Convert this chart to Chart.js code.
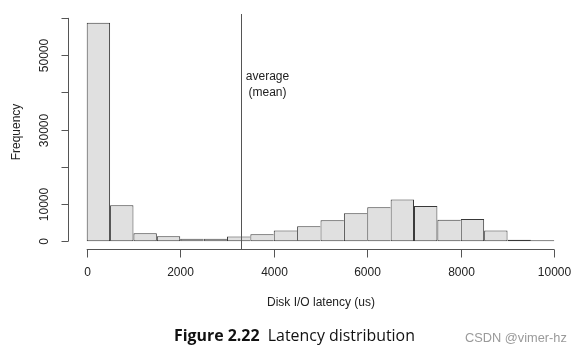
<!DOCTYPE html>
<html>
<head>
<meta charset="utf-8">
<script src="https://cdn.jsdelivr.net/npm/chart.js@4.4.1/dist/chart.umd.min.js"></script>
<style>
  html, body { margin: 0; padding: 0; background: #fff; }
  #wrap { width: 581px; height: 353px; }
</style>
</head>
<body>
<div id="wrap"><canvas id="hist" width="581" height="353"></canvas></div>
<script>
// histogram bins (us) and counts
const binEdges = [0, 500, 1000, 1500, 2000, 2500, 3000, 3500, 4000, 4500, 5000,
                  5500, 6000, 6500, 7000, 7500, 8000, 8500, 9000, 9500, 10000];
const counts = [58700, 9700, 2150, 1350, 700, 700, 1250, 1900, 2870, 4030,
                5650, 7500, 9140, 11200, 9450, 5780, 5950, 2900, 400, 250];
const xTicks = [0, 2000, 4000, 6000, 8000, 10000];
const yTicks = [0, 10000, 20000, 30000, 40000, 50000, 60000];
const yLabels = [0, 10000, 30000, 50000];   // R drops the ones that would overlap
const meanLatency = 3290;

const axisColor = '#555';
const textColor = '#222';
const tickFont = '12px "Liberation Sans", Arial, sans-serif';

function line(ctx, x1, y1, x2, y2) {
  ctx.beginPath();
  ctx.moveTo(x1, y1);
  ctx.lineTo(x2, y2);
  ctx.stroke();
}

// fit a text to a given pixel width
function fitFont(ctx, txt, weight, family, width) {
  ctx.font = weight + ' 20px ' + family;
  return 20 * width / ctx.measureText(txt).width;
}

// draws R-style axes (line only from first to last tick), labels, mean line and caption
const rStyle = {
  id: 'rStyle',
  afterDatasetsDraw(chart) {
    const { ctx, chartArea: a, scales: { x, y } } = chart;
    ctx.save();
    ctx.strokeStyle = axisColor;
    ctx.lineWidth = 1;

    // mean line over the whole plot region
    const mx = Math.round(x.getPixelForValue(meanLatency)) + 0.5;
    line(ctx, mx, a.top, mx, a.bottom);

    // x axis
    const ay = Math.round(a.bottom) - 0.5;
    line(ctx, x.getPixelForValue(xTicks[0]), ay, x.getPixelForValue(xTicks[xTicks.length - 1]), ay);
    ctx.fillStyle = textColor;
    ctx.font = tickFont;
    ctx.textAlign = 'center';
    ctx.textBaseline = 'middle';
    xTicks.forEach(v => {
      const px = Math.round(x.getPixelForValue(v)) + 0.5;
      line(ctx, px, ay, px, ay + 8);
      ctx.fillText(String(v), px, 273);
    });
    ctx.fillText('Disk I/O latency (us)', (x.getPixelForValue(0) + x.getPixelForValue(10000)) / 2 + 0.5, 303);

    // y axis
    const axx = Math.round(a.left) + 0.5;
    line(ctx, axx, y.getPixelForValue(yTicks[0]), axx, y.getPixelForValue(yTicks[yTicks.length - 1]));
    yTicks.forEach(v => {
      const py = Math.round(y.getPixelForValue(v)) + 0.5;
      line(ctx, axx - 7, py, axx, py);
      if (yLabels.includes(v)) {
        ctx.save();
        ctx.translate(45, py);
        ctx.rotate(-Math.PI / 2);
        ctx.fillText(String(v), 0, 0);
        ctx.restore();
      }
    });
    ctx.save();
    ctx.translate(17, (a.top + a.bottom) / 2);
    ctx.rotate(-Math.PI / 2);
    ctx.fillText('Frequency', 0, 0);
    ctx.restore();

    // annotation next to the mean line
    ctx.fillText('average', mx + 26, 77);
    ctx.fillText('(mean)', mx + 26, 93);

    // figure caption
    const fam = '"Open Sans", "Noto Sans", sans-serif';
    const bold = 'Figure 2.22';
    const rest = '  Latency distribution';
    ctx.font = '700 20px ' + fam;
    const wb = ctx.measureText(bold).width;
    ctx.font = '400 20px ' + fam;
    const wr = ctx.measureText(rest).width;
    const size = 20 * 241 / (wb + wr);
    ctx.textAlign = 'left';
    ctx.textBaseline = 'alphabetic';
    ctx.fillStyle = '#111';
    ctx.font = '700 ' + size + 'px ' + fam;
    ctx.fillText(bold, 174, 341);
    ctx.font = '400 ' + size + 'px ' + fam;
    ctx.fillText(rest, 174 + wb * size / 20, 341);

    // watermark
    const wm = 'CSDN @vimer-hz';
    const wsize = fitFont(ctx, wm, '400', '"Liberation Sans", Arial, sans-serif', 102);
    ctx.font = '400 ' + wsize + 'px "Liberation Sans", Arial, sans-serif';
    ctx.fillStyle = '#9a9a9a';
    ctx.textBaseline = 'middle';
    ctx.fillText(wm, 465, 338);

    ctx.restore();
  }
};

const points = counts.map((c, i) => ({ x: (binEdges[i] + binEdges[i + 1]) / 2, y: c }));

new Chart(document.getElementById('hist'), {
  type: 'bar',
  data: {
    datasets: [{
      data: points,
      backgroundColor: '#e0e0e0',
      borderColor: '#383838',
      borderWidth: ctx => {
        const i = ctx.dataIndex;
        const last = i === counts.length - 1;
        return { top: 1, bottom: 1, left: 1, right: (last || counts[i + 1] < counts[i]) ? 1 : 0 };
      },
      borderSkipped: false,
      barPercentage: 1,
      categoryPercentage: 1,
      inflateAmount: 0
    }]
  },
  options: {
    responsive: false,
    animation: false,
    layout: { padding: { left: 68, right: 8, top: 14, bottom: 103 } },
    scales: {
      x: { type: 'linear', display: false, offset: false, min: -400, max: 10400 },
      y: { display: false, min: -2350, max: 61050 }
    },
    plugins: { legend: { display: false }, tooltip: { enabled: false } }
  },
  plugins: [rStyle]
});
</script>
</body>
</html>
